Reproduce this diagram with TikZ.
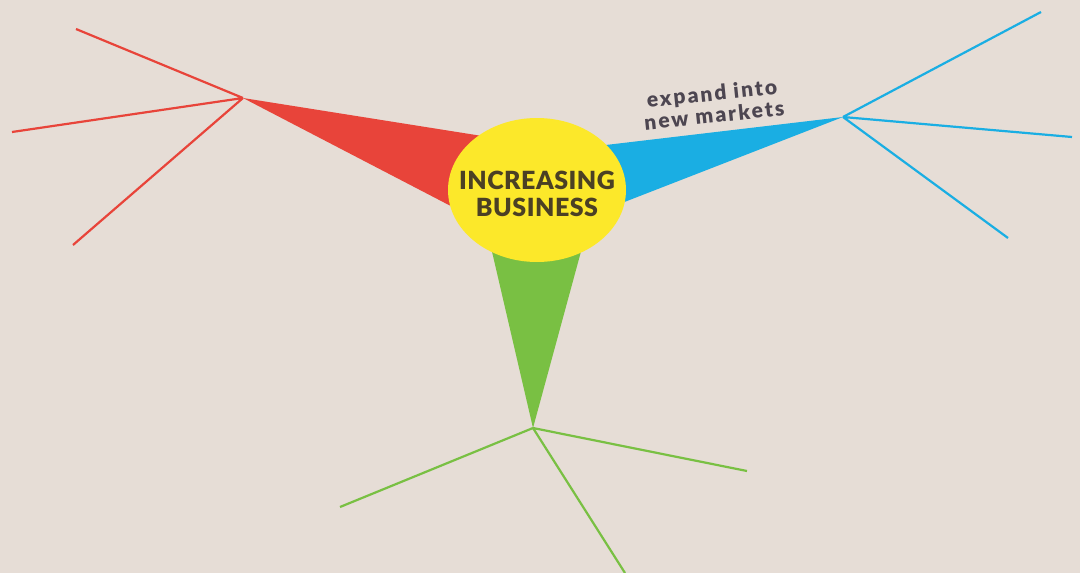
\documentclass[tikz,border=0pt]{standalone}
\usepackage{fontspec}
\usetikzlibrary{shapes.geometric}
\setmainfont{Lato}
\newfontfamily\hubfont[LetterSpace=2]{Lato Black}
\newfontfamily\lblfont[LetterSpace=10]{Lato Black}
\definecolor{bg}{HTML}{E6DDD6}
\definecolor{myred}{HTML}{E8443A}
\definecolor{myblue}{HTML}{1AAEE3}
\definecolor{mygreen}{HTML}{79C043}
\definecolor{myyellow}{HTML}{FCE82A}
\definecolor{hubtext}{HTML}{4B4024}
\definecolor{lbltext}{HTML}{4D4651}
\begin{document}
\begin{tikzpicture}[x=1pt,y=-1pt,
  twig/.style={line width=2.2pt},
  wedge/.style={draw=none}]
\fill[bg] (0,0) rectangle (1080,573);
\useasboundingbox (0,0) rectangle (1080,573);
% hubs
\coordinate (rh) at (243,98);
\coordinate (bh) at (843,117);
\coordinate (gh) at (533,428);
% red branch
\fill[myred] (rh) -- (520,142) -- (520,242) -- cycle;
\coordinate (r1) at (76,29);
\coordinate (r2) at (12,132);
\coordinate (r3) at (73,245);
\draw[twig,myred] (rh) -- (r1) (rh) -- (r2) (rh) -- (r3);
% blue branch
\fill[myblue] (bh) -- (555,151) -- (555,229) -- cycle;
\coordinate (b1) at (1041,12);
\coordinate (b2) at (1072,137);
\coordinate (b3) at (1008,238);
\draw[twig,myblue] (bh) -- (b1) (bh) -- (b2) (bh) -- (b3);
% green branch
\fill[mygreen] (gh) -- (480,200) -- (595,200) -- cycle;
\coordinate (g1) at (340,507);
\coordinate (g2) at (747,471);
\coordinate (g3) at (625,573);
\draw[twig,mygreen] (gh) -- (g1) (gh) -- (g2) (gh) -- (g3);
% centre
\node[ellipse, fill=myyellow, minimum width=178pt, minimum height=144pt, inner sep=0pt] (center) at (537,190) {};
\node[text=hubtext, align=center, font=\hubfont\fontsize{25}{27}\selectfont] (ctext) at (537,194) {INCREASING\\BUSINESS};
% label
\node[text=lbltext, align=center, rotate=6, font=\lblfont\fontsize{21}{22}\selectfont] (lbl) at (713,104) {expand into\\new markets};
\end{tikzpicture}
\end{document}
